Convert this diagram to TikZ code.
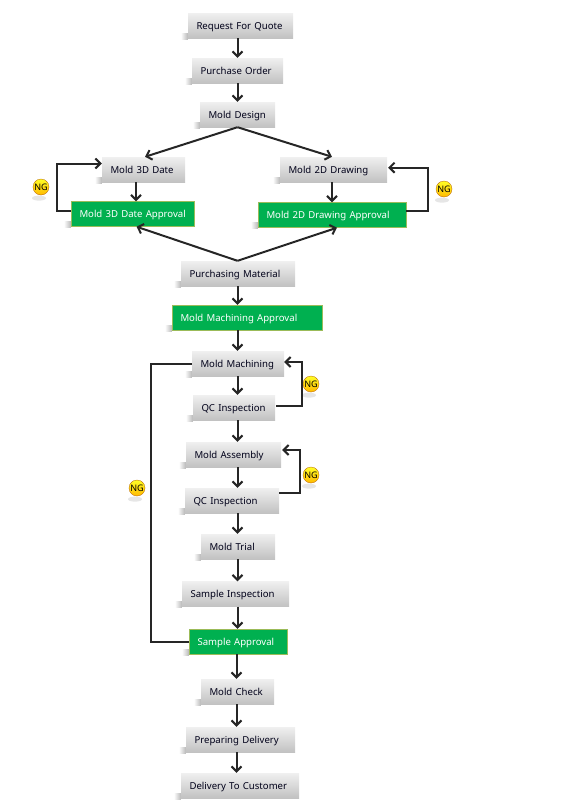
\documentclass[tikz,border=0pt]{standalone}
\usepackage{fontspec}
\setmainfont{Noto Sans}
\usetikzlibrary{arrows.meta,calc}

\definecolor{boxgreen}{HTML}{00B050}
\definecolor{boxedge}{HTML}{9BBB59}
\definecolor{linedark}{HTML}{262626}

\tikzset{
  boxbase/.style={minimum height=25pt, inner xsep=0pt, inner ysep=0pt, align=left, font=\fontsize{9.6}{11}\selectfont,
    text width=#1pt, text height=8.5pt, text depth=1.5pt, execute at begin node={\leavevmode\hspace*{8.5pt}},
    append after command={\pgfextra{\let\boxname\tikzlastnode
      \shade[left color=white, right color=gray!55] ([xshift=-7pt,yshift=-1pt]\boxname.south west) rectangle ([yshift=5pt]\boxname.south west);}}},
  flowbox/.style={boxbase=#1, top color=gray!12, bottom color=gray!48, draw=none, text=black!90!blue},
  greenbox/.style={boxbase=#1, fill=boxgreen, draw=boxedge, text=white},
  ngball/.style={circle, minimum size=16pt, inner sep=0pt, font=\fontsize{9}{10}\selectfont, top color=yellow!85!white, bottom color=orange!55!yellow,
    draw=orange!70!black, line width=.3pt,
    append after command={\pgfextra{\let\ballname\tikzlastnode
      \fill[gray, opacity=.2] ([xshift=-2pt,yshift=-3pt]\ballname.south) ellipse (7pt and 2.5pt);}}},
  flowline/.style={draw=linedark, line width=2pt, -{Straight Barb[length=5pt,width=10pt,line width=2pt]}},
  plainline/.style={draw=linedark, line width=2pt}
}

\begin{document}
\begin{tikzpicture}[x=1pt,y=1pt]
  \useasboundingbox (0,0) rectangle (578,-812);

  % Draw main boxes
  \node[flowbox=105] (quote) at (240.5,-25.5) {Request For Quote};
  \node[flowbox=91] (order) at (237.5,-70.5) {Purchase Order};
  \node[flowbox=75] (design) at (237.5,-114.5) {Mold Design};
  \node[flowbox=83] (date3d) at (143.5,-169.5) {Mold 3D Date};
  \node[flowbox=107] (draw2d) at (333.5,-169.5) {Mold 2D Drawing};
  \node[greenbox=123] (appr3d) at (132.5,-214) {Mold 3D Date Approval};
  \node[greenbox=148] (appr2d) at (332,-215) {Mold 2D Drawing Approval};
  \node[flowbox=114] (material) at (238,-273.5) {Purchasing Material};
  \node[greenbox=150] (apprmach) at (247,-317.5) {Mold Machining Approval};
  \node[flowbox=92] (machining) at (238,-363.5) {Mold Machining};
  \node[flowbox=82] (qcmach) at (234,-407.5) {QC Inspection};
  \node[flowbox=95] (assembly) at (233.5,-454.5) {Mold Assembly};
  \node[flowbox=94] (qcasm) at (232,-500.5) {QC Inspection};
  \node[flowbox=74] (trial) at (238,-546.5) {Mold Trial};
  \node[flowbox=107] (sample) at (235.5,-594) {Sample Inspection};
  \node[greenbox=98] (apprsample) at (238,-641.5) {Sample Approval};
  \node[flowbox=73] (check) at (237.5,-691.5) {Mold Check};
  \node[flowbox=109] (prepare) at (240.5,-739.5) {Preparing Delivery};
  \node[flowbox=118] (deliver) at (240,-785.5) {Delivery To Customer};

  % NG marks
  \node[ngball] (ngdate) at (41,-187) {NG};
  \node[ngball] (ngdraw) at (444,-189) {NG};
  \node[ngball] (ngmach) at (311,-384) {NG};
  \node[ngball] (ngasm) at (311,-475) {NG};
  \node[ngball] (ngsample) at (137,-488) {NG};

  % Main column of arrows
  \coordinate (spine) at (237.5,0);
  \coordinate (spinelow) at (236.5,0);
  \foreach \a/\b in {quote/order,order/design,material/apprmach,apprmach/machining,machining/qcmach,qcmach/assembly,assembly/qcasm,qcasm/trial,trial/sample,sample/apprsample} {
    \draw[flowline] (\a.south -| spine) -- (\b.north -| spine);
  }
  \foreach \a/\b in {apprsample/check,check/prepare,prepare/deliver} {
    \draw[flowline] (\a.south -| spinelow) -- (\b.north -| spinelow);
  }

  % Branches
  \draw[flowline] (design.south -| spine) -- ([xshift=1.5pt]date3d.north);
  \draw[flowline] (design.south -| spine) -- ([xshift=-1.5pt]draw2d.north);
  \draw[flowline] ([xshift=-7.5pt]date3d.south) -- ([xshift=3.5pt]appr3d.north);
  \draw[flowline] ([xshift=-1.5pt]draw2d.south) -- (appr2d.north);
  \draw[flowline] (material.north -| spine) -- ([xshift=4pt]appr3d.south);
  \draw[flowline] (material.north -| spine) -- ([xshift=5pt]appr2d.south);

  % NG loops
  \draw[flowline] ([yshift=3pt]appr3d.west) -- ++(-14,0) |- ([yshift=6pt]date3d.west);
  \draw[flowline] ([yshift=4.5pt]appr2d.east) -- ++(22,0) |- ([xshift=1pt,yshift=1.8pt]draw2d.east);
  \draw[flowline] ([xshift=1pt,yshift=1.5pt]qcmach.east) -- ++(26,0) |- ([yshift=1.5pt]machining.east);
  \draw[flowline] ([yshift=7.5pt]qcasm.east) -- ++(21,0) |- ([xshift=1pt,yshift=4.5pt]assembly.east);
  \draw[plainline] (apprsample.west) -- ++(-38,0) |- (machining.west);
\end{tikzpicture}
\end{document}
